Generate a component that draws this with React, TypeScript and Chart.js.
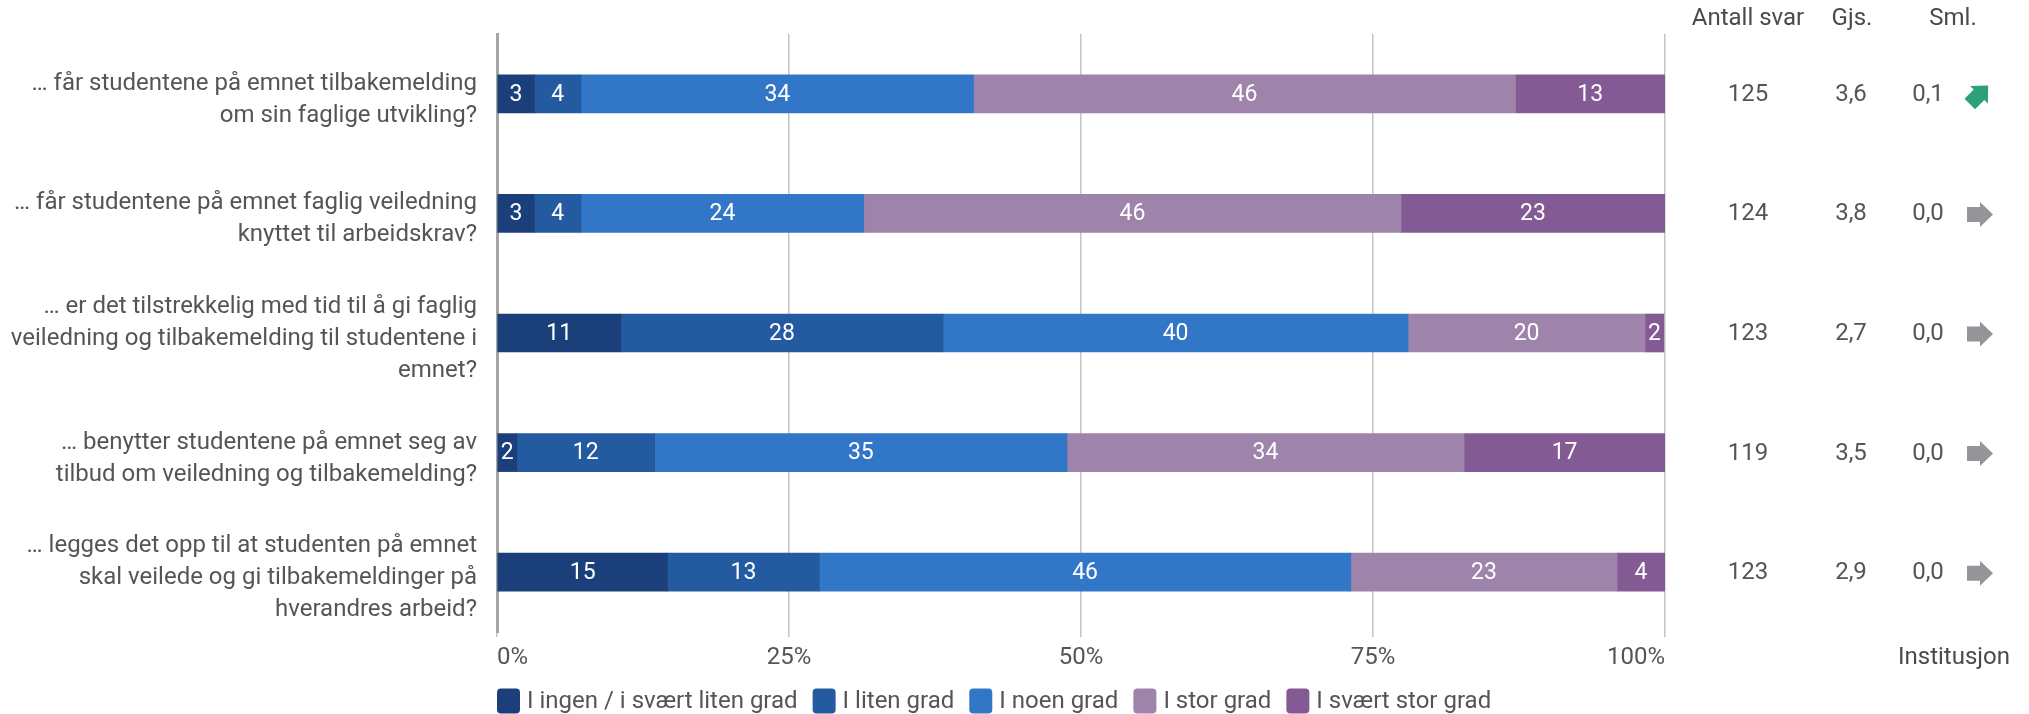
import React, { useEffect, useRef } from 'react';
import { Chart, registerables } from 'chart.js';

Chart.register(...registerables);

const FONT = 'Roboto, "Noto Sans", "DejaVu Sans", sans-serif';

// ---- data ----
const questions: string[][] = [
  ['… får studentene på emnet tilbakemelding', 'om sin faglige utvikling?'],
  ['… får studentene på emnet faglig veiledning', 'knyttet til arbeidskrav?'],
  ['… er det tilstrekkelig med tid til å gi faglig', 'veiledning og tilbakemelding til studentene i', 'emnet?'],
  ['… benytter studentene på emnet seg av', 'tilbud om veiledning og tilbakemelding?'],
  ['… legges det opp til at studenten på emnet', 'skal veilede og gi tilbakemeldinger på', 'hverandres arbeid?'],
];

const seriesNames = ['I ingen / i svært liten grad', 'I liten grad', 'I noen grad', 'I stor grad', 'I svært stor grad'];
const seriesColors = ['#1b3f7b', '#245aa0', '#3277c7', '#9e83ab', '#835a93'];

const ingenGrad = [3.2, 3.2, 10.6, 1.7, 14.6];
const litenGrad = [4.0, 4.0, 27.6, 11.8, 13.0];
const noenGrad = [33.6, 24.2, 39.8, 35.3, 45.5];
const storGrad = [46.4, 46.0, 20.3, 34.0, 22.8];
const svaertStorGrad = [12.8, 22.6, 1.6, 17.2, 4.1];

const xTickValues = [0, 25, 50, 75, 100];

const columnHeaders = ['Antall svar', 'Gjs.', 'Sml.'];
const antallSvar = [125, 124, 123, 119, 123];
const gjs = [3.6, 3.8, 2.7, 3.5, 2.9];
const sml = [0.1, 0.0, 0.0, 0.0, 0.0];
const trend = ['up', 'flat', 'flat', 'flat', 'flat'];
const footerLabel = 'Institusjon';

const seriesValues = [ingenGrad, litenGrad, noenGrad, storGrad, svaertStorGrad];

const fmt = (v: number) => v.toFixed(1).replace('.', ',');

function drawArrow(ctx: CanvasRenderingContext2D, cx: number, cy: number, angle: number, color: string) {
  ctx.save();
  ctx.translate(cx, cy);
  ctx.rotate(angle);
  ctx.fillStyle = color;
  ctx.beginPath();
  ctx.moveTo(-13, -7.5);
  ctx.lineTo(0, -7.5);
  ctx.lineTo(0, -12.5);
  ctx.lineTo(13, 0);
  ctx.lineTo(0, 12.5);
  ctx.lineTo(0, 7.5);
  ctx.lineTo(-13, 7.5);
  ctx.closePath();
  ctx.fill();
  ctx.restore();
}

const barLabelPlugin = {
  id: 'barLabels',
  afterDatasetsDraw(chart: any) {
    const ctx = chart.ctx as CanvasRenderingContext2D;
    ctx.save();
    ctx.font = `23px ${FONT}`;
    ctx.fillStyle = '#ffffff';
    ctx.textAlign = 'center';
    ctx.textBaseline = 'middle';
    chart.data.datasets.forEach((ds: any, di: number) => {
      const meta = chart.getDatasetMeta(di);
      meta.data.forEach((el: any, i: number) => {
        const v = ds.data[i] as number;
        if (!v) return;
        const x = (el.x + el.base) / 2;
        ctx.fillText(String(Math.round(v)), x, el.y + 1);
      });
    });
    ctx.restore();
  },
};

const sidePlugin = {
  id: 'sideColumns',
  afterDraw(chart: any) {
    const ctx = chart.ctx as CanvasRenderingContext2D;
    const yScale = chart.scales.y;
    const area = chart.chartArea;
    ctx.save();
    ctx.font = `24px ${FONT}`;
    ctx.textBaseline = 'middle';
    ctx.textAlign = 'center';

    // headers
    ctx.fillStyle = '#4a4a4a';
    const headerX = [1748, 1852, 1953];
    columnHeaders.forEach((h, i) => ctx.fillText(h, headerX[i], 19));

    // rows
    ctx.fillStyle = '#555555';
    questions.forEach((_, i) => {
      const y = yScale.getPixelForValue(i) + 1;
      ctx.fillText(String(antallSvar[i]), 1748, y);
      ctx.fillText(fmt(gjs[i]), 1851, y);
      ctx.fillText(fmt(sml[i]), 1928, y);
      if (trend[i] === 'up') {
        drawArrow(ctx, 1979, y, -Math.PI / 4, '#2ea077');
      } else if (trend[i] === 'down') {
        drawArrow(ctx, 1979, y, Math.PI / 4, '#c0504d');
      } else {
        drawArrow(ctx, 1980, y, 0, '#939598');
      }
    });

    // footer
    ctx.fillStyle = '#4a4a4a';
    ctx.fillText(footerLabel, 1954, 658);

    // legend
    let x = area.left;
    const cy = 701;
    ctx.textAlign = 'left';
    chart.data.datasets.forEach((ds: any) => {
      ctx.fillStyle = ds.backgroundColor;
      ctx.beginPath();
      (ctx as any).roundRect(x, cy - 12.5, 23, 25, 4);
      ctx.fill();
      x += 23 + 7;
      ctx.fillStyle = '#555555';
      ctx.fillText(ds.label, x, cy + 1);
      x += ctx.measureText(ds.label).width + 15;
    });
    ctx.restore();
  },
};

export default function App() {
  const canvasRef = useRef<HTMLCanvasElement | null>(null);

  useEffect(() => {
    if (!canvasRef.current) return;
    const chart = new Chart(canvasRef.current, {
      type: 'bar',
      data: {
        labels: questions as any,
        datasets: seriesNames.map((name, i) => ({
          label: name,
          data: seriesValues[i],
          backgroundColor: seriesColors[i],
          borderWidth: 0,
          barThickness: 38,
        })),
      },
      options: {
        indexAxis: 'y',
        animation: false,
        responsive: true,
        maintainAspectRatio: false,
        layout: { padding: { left: 0, right: 364, top: 34, bottom: 38 } },
        plugins: {
          legend: { display: false },
          tooltip: { enabled: false },
          title: { display: false },
        },
        scales: {
          x: {
            stacked: true,
            min: 0,
            max: 100,
            afterBuildTicks: (scale: any) => {
              scale.ticks = xTickValues.map((v) => ({ value: v }));
            },
            afterFit: (scale: any) => {
              scale.height = 44;
              scale.paddingLeft = 0;
              scale.paddingRight = 0;
            },
            grid: {
              color: '#c4c4c4',
              lineWidth: 1.5,
              drawTicks: true,
              tickLength: 5,
            },
            border: { display: false },
            ticks: {
              align: 'inner',
              padding: 7,
              color: '#555555',
              font: { family: FONT, size: 24 },
              callback: (v: any) => `${v}%`,
            },
          },
          y: {
            stacked: true,
            afterFit: (scale: any) => {
              scale.width = 497;
              scale.paddingTop = 0;
              scale.paddingBottom = 0;
            },
            grid: { display: false, drawTicks: false },
            border: { display: true, color: '#a6a6a6', width: 3 },
            ticks: {
              padding: 20,
              labelOffset: 6,
              color: '#555555',
              font: { family: FONT, size: 24, lineHeight: 1.34 },
            },
          },
        },
      },
      plugins: [barLabelPlugin, sidePlugin],
    } as any);
    return () => chart.destroy();
  }, []);

  return (
    <div style={{ position: 'fixed', left: 0, top: 0, width: 2029, height: 714, background: '#ffffff' }}>
      <canvas ref={canvasRef} />
    </div>
  );
}
